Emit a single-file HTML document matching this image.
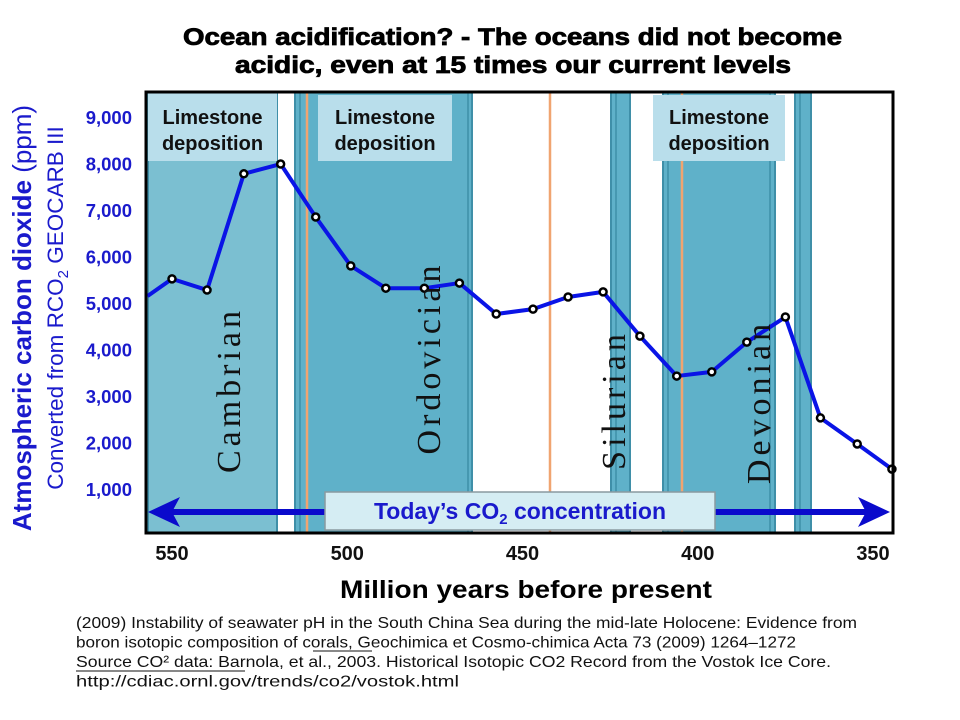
<!DOCTYPE html>
<html><head><meta charset="utf-8"><style>
body{margin:0;background:#fff;}
svg{display:block;font-family:"Liberation Sans",sans-serif;}
</style></head><body>
<svg width="960" height="720" viewBox="0 0 960 720">
<g id="bands"></g>
<g id="plot"></g>
</svg>
<script>
const years=[557,550,540,529.5,519,509,499,489,478,468,457.5,447,437,427,416.5,406,396,386,375,365,354.5,344.6];
const co2=[5170,5540,5300,7800,8010,6870,5820,5340,5340,5450,4785,4890,5150,5260,4310,3450,3540,4180,4720,2550,1990,1450];
const yTicks=[1000,2000,3000,4000,5000,6000,7000,8000,9000];
const yTickLabels=["1,000","2,000","3,000","4,000","5,000","6,000","7,000","8,000","9,000"];
const xTicks=[550,500,450,400,350];
const NS="http://www.w3.org/2000/svg";
const svg=document.querySelector('svg');
const X=v=>172+(550-v)*3.505;
const Y=v=>490-(v-1000)*0.0465;
function mk(tag,attrs,parent){const e=document.createElementNS(NS,tag);for(const k in attrs)e.setAttribute(k,attrs[k]);(parent||svg).appendChild(e);return e;}
const L=146,R=893,T=92,B=533;
const bg=document.getElementById('bands');
const bands=[[148,277,'#7bbfd1'],[295,472,'#5fb1c9'],[611,630,'#5fb1c9'],[663,775,'#5fb1c9'],[795,811,'#5fb1c9']];
bands.forEach(b=>{const r=mk('rect',{x:b[0],y:T,width:b[1]-b[0],height:B-T,fill:b[2],stroke:'#3f8fa8','stroke-width':2},bg);

});
[300,468,616,668,770,800].forEach(x=>mk('line',{x1:x,x2:x,y1:T,y2:B,stroke:'#3f8fa8','stroke-width':1.5},bg));
[307,550,682].forEach(x=>{const l=mk('line',{x1:x,x2:x,y1:T,y2:B,stroke:'#f0a470','stroke-width':2.5},bg);

});
[[148,277,92],[318,452,95],[653,785,95]].forEach(b=>{const r=mk('rect',{x:b[0],y:b[2],width:b[1]-b[0],height:161-b[2],fill:'#b9deeb'},bg);


const c=(b[0]+b[1])/2;
mk('text',{x:c,y:124,'text-anchor':'middle','font-size':20,'font-weight':'bold',fill:'#111'},bg).textContent='Limestone';
mk('text',{x:c,y:150,'text-anchor':'middle','font-size':20,'font-weight':'bold',fill:'#111'},bg).textContent='deposition';});
[['Cambrian',240,390],['Ordovician',440,358],['Silurian',625,400],['Devonian',770,402]].forEach(p=>{const t=mk('text',{x:p[1],y:p[2],transform:`rotate(-90 ${p[1]} ${p[2]})`,'text-anchor':'middle','font-size':34,'letter-spacing':4,'font-family':'Liberation Serif, serif',fill:'#111'});t.textContent=p[0];

});
const pg=document.getElementById('plot');
mk('polyline',{points:years.map((y,i)=>X(y)+','+Y(co2[i])).join(' '),fill:'none',stroke:'#0a14e6','stroke-width':4,'stroke-linejoin':'round'},pg);
years.forEach((y,i)=>{if(i==0)return;const c=mk('circle',{cx:X(y),cy:Y(co2[i]),r:3.5,fill:'#fff',stroke:'#000','stroke-width':2.5},pg);

});
mk('line',{x1:165,x2:875,y1:512,y2:512,stroke:'#0a0acc','stroke-width':6});
mk('polygon',{points:'148,512 180,497 172,512 180,527',fill:'#0a0acc'});
mk('polygon',{points:'890,512 858,497 866,512 858,527',fill:'#0a0acc'});
const box=mk('rect',{x:325,y:492,width:390,height:38,fill:'#d5edf3',stroke:'#8a9aa0','stroke-width':1.5});


const tt=mk('text',{x:520,y:519,'text-anchor':'middle','font-size':23,'font-weight':'bold',fill:'#1a1acc'});
tt.innerHTML='Today’s CO<tspan font-size="15" dy="5">2</tspan><tspan dy="-5"> concentration</tspan>';
mk('rect',{x:L,y:T,width:R-L,height:B-T,fill:'none',stroke:'#000','stroke-width':3});
yTicks.forEach((v,i)=>{const t=mk('text',{x:132,y:Y(v)+6,'text-anchor':'end','font-size':18.5,'font-weight':'bold',fill:'#1a1acc'});t.textContent=yTickLabels[i];

});
xTicks.forEach(v=>{const t=mk('text',{x:X(v),y:560,'text-anchor':'middle','font-size':20,'font-weight':'bold',fill:'#111'});t.textContent=v;

});
[['Ocean acidification? - The oceans did not become',45,183,659],['acidic, even at 15 times our current levels',73,235,556]].forEach(l=>{const t=mk('text',{x:l[2],y:l[1],'font-size':24,'font-weight':'bold',fill:'#000',stroke:'#000','stroke-width':0.8,textLength:l[3],lengthAdjust:'spacingAndGlyphs'});t.textContent=l[0];

});
const xt=mk('text',{x:340,y:598,'font-size':25,'font-weight':'bold',fill:'#000',textLength:372,lengthAdjust:'spacingAndGlyphs'});xt.textContent='Million years before present';


const y1=mk('text',{x:31,y:318,transform:'rotate(-90 31 318)','text-anchor':'middle','font-size':26,fill:'#1a1acc'});
y1.innerHTML='<tspan font-weight="bold">Atmospheric carbon dioxide</tspan> (ppm)';


const y2=mk('text',{x:63,y:308,transform:'rotate(-90 63 308)','text-anchor':'middle','font-size':22.5,fill:'#1a1acc'});
y2.innerHTML='Converted from RCO<tspan font-size="15" dy="5">2</tspan><tspan dy="-5"> GEOCARB III</tspan>';


const fn=['(2009) Instability of seawater pH in the South China Sea during the mid-late Holocene: Evidence from','boron isotopic composition of corals, Geochimica et Cosmo-chimica Acta 73 (2009) 1264–1272','Source CO² data: Barnola, et al., 2003. Historical Isotopic CO2 Record from the Vostok Ice Core.','http://cdiac.ornl.gov/trends/co2/vostok.html'];
const fw=[781,720,755,383];
fn.forEach((s,i)=>{const t=mk('text',{x:76,y:628+i*19.5,'font-size':16,fill:'#111',textLength:fw[i],lengthAdjust:'spacingAndGlyphs'});t.textContent=s;

});
mk('line',{x1:76,x2:245,y1:671,y2:671,stroke:'#111','stroke-width':1});
mk('line',{x1:313,x2:372,y1:651,y2:651,stroke:'#111','stroke-width':1});
</script>
</body></html>
